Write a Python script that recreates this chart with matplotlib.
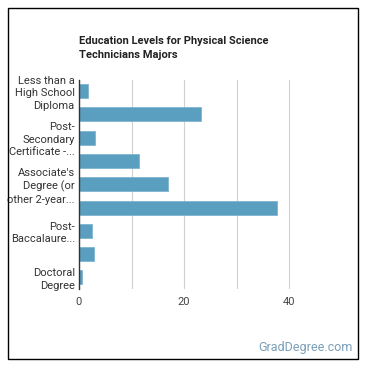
import matplotlib
matplotlib.use("Agg")
import matplotlib.pyplot as plt
from matplotlib.patches import Rectangle

plt.rcParams['font.family'] = ['Roboto', 'DejaVu Sans']

# data
categories = ["Less than a High School Diploma", "High School Diploma",
              "Post-Secondary Certificate", "Some College Courses",
              "Associate's Degree (or other 2-year degree)", "Bachelor's Degree",
              "Post-Baccalaureate Certificate", "Master's Degree", "Doctoral Degree"]
tick_labels = ["Less than a\nHigh School\nDiploma", "",
               "Post-\nSecondary\nCertificate -...", "",
               "Associate's\nDegree (or\nother 2-year...", "",
               "Post-\nBaccalaure...", "",
               "Doctoral\nDegree"]
values = [1.8, 23.3, 3.1, 11.5, 17.0, 37.7, 2.5, 2.9, 0.6]

W = 370
fig = plt.figure(figsize=(3.7, 3.7), dpi=100)
ax = fig.add_axes([79 / W, 1 - 289 / W, (340 - 79) / W, (289 - 79.5) / W])

y = list(range(len(categories)))
ax.barh(y, values, height=0.6, color='#5b9fc0', edgecolor='#7fb6cf', linewidth=0.6, zorder=3)
ax.set_ylim(len(categories) - 0.5, -0.5)
ax.set_xlim(0, 49.7)
ax.set_yticks(y)
ax.set_yticklabels(tick_labels, fontsize=8, color='#333333', linespacing=1.3)
ax.set_xticks([0, 20, 40])
ax.set_xticks([10, 30], minor=True)
ax.tick_params(axis='x', which='both', length=0, labelsize=8, labelcolor='#444444', pad=6)
ax.tick_params(axis='y', length=0, pad=3)
ax.grid(axis='x', which='both', color='#d0d0d0', linewidth=0.8, zorder=0)
for s in ['top', 'right', 'bottom']:
    ax.spines[s].set_visible(False)
ax.spines['left'].set_color('#333333')
ax.spines['left'].set_linewidth(1.0)
ax.spines['left'].set_zorder(4)

fig.text(79 / W, 1 - 36 / W, "Education Levels for Physical Science\nTechnicians Majors",
         fontsize=8, fontweight='bold', color='#222222', ha='left', va='top', linespacing=1.5)
fig.text(353 / W, 1 - 347 / W, "GradDegree.com", fontsize=9, color='#7a9fb8',
         ha='right', va='center')

fig.patches.append(Rectangle((7.5 / W, 1 - 359 / W), (357.5 - 7.5) / W, (359 - 7.5) / W,
                             transform=fig.transFigure, fill=False, edgecolor='black',
                             linewidth=1.0))

fig.savefig("out.png", dpi=100)
